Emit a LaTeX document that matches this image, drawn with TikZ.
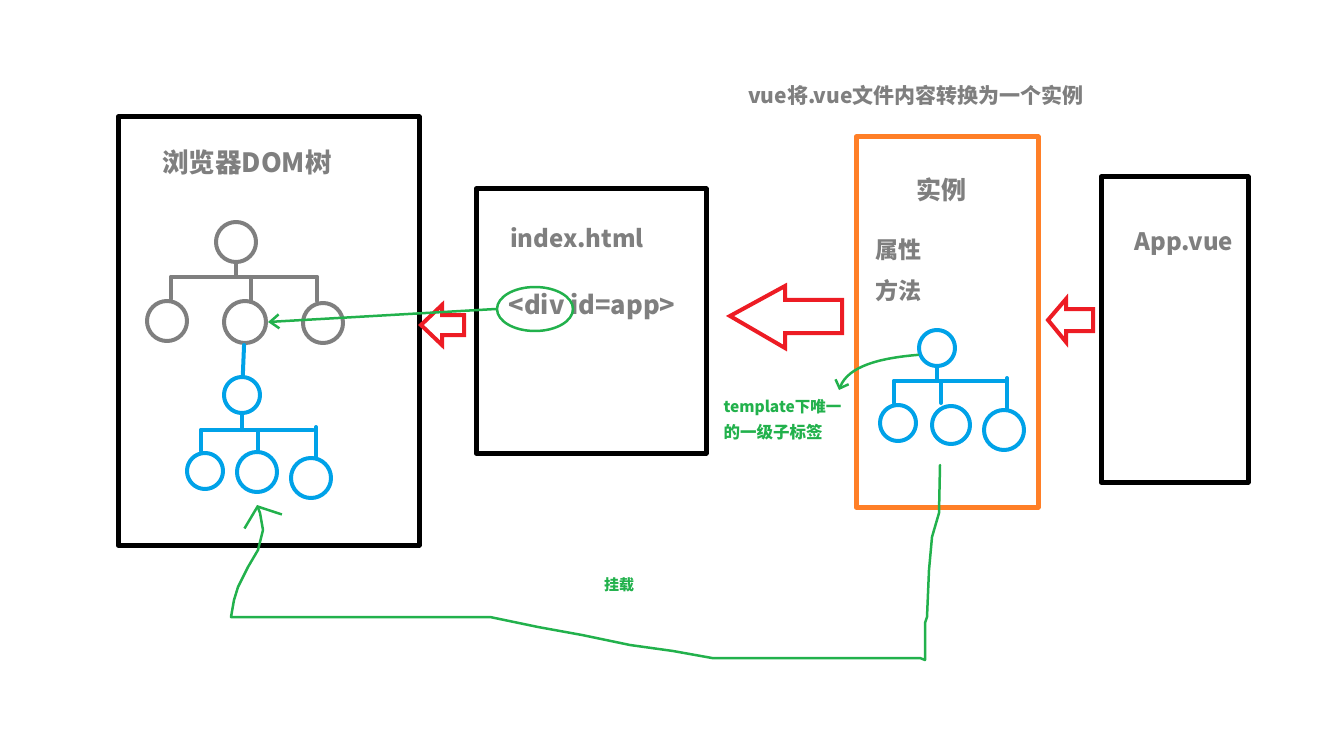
\documentclass[tikz,border=0pt]{standalone}
\usepackage{fontspec}
\usepackage{tikz}
\newfontfamily\cjk{Noto Sans CJK SC}
\usetikzlibrary{arrows.meta}
\usetikzlibrary{shapes.geometric}
\definecolor{txtgray}{RGB}{127,127,127}
\definecolor{pengreen}{RGB}{34,177,76}
\definecolor{penblue}{RGB}{0,162,232}
\definecolor{penred}{RGB}{237,28,36}
\definecolor{penorange}{RGB}{255,127,39}

\begin{document}
\begin{tikzpicture}[x=1pt,y=-1pt,line cap=round,line join=round,
  box/.style={draw,line width=5pt,inner sep=0pt},
  lbl/.style={text=txtgray,font=\cjk\bfseries\fontsize{24}{28}\selectfont},
  note/.style={text=pengreen,anchor=west,font=\cjk\bfseries\fontsize{16.5}{19}\selectfont},
  gnode/.style={circle,draw=txtgray,line width=4pt,inner sep=0pt},
  bnode/.style={circle,draw=penblue,line width=4pt,inner sep=0pt},
  gline/.style={draw=txtgray,line width=4pt},
  bline/.style={draw=penblue,line width=4pt},
  pen/.style={draw=pengreen,line width=2.5pt},
  hollow/.style={draw=penred,line width=4pt,line join=miter}]
\useasboundingbox (0,0) rectangle (1318,746);
%% boxes
\node[box,minimum width=301pt,minimum height=428pt] (dombox) at (268.5,331) {};
\node[box,minimum width=230pt,minimum height=264pt] (html) at (591,321) {};
\node[box,draw=penorange,minimum width=182pt,minimum height=370pt] (inst) at (947,322) {};
\node[box,minimum width=147pt,minimum height=305pt] (app) at (1174.5,329.5) {};
%% texts
\node[lbl,font=\cjk\bfseries\fontsize{26.5}{30}\selectfont] (domtitle) at (247,162) {浏览器DOM树};
\node[lbl] (htmltitle) at (577,238) {index.html};
\node[lbl,font=\cjk\bfseries\fontsize{25.5}{30}\selectfont] (divtag) at (592,307) {<div id=app>};
\node[lbl,font=\cjk\bfseries\fontsize{21}{25}\selectfont] (top) at (916,95) {vue将.vue文件内容转换为一个实例};
\node[lbl,font=\cjk\bfseries\fontsize{25}{28}\selectfont] (insttitle) at (941,190) {实例};
\node[lbl,font=\cjk\bfseries\fontsize{23}{28}\selectfont] (props) at (898,250) {属性};
\node[lbl,font=\cjk\bfseries\fontsize{23}{28}\selectfont] (meths) at (898,291) {方法};
\node[lbl] (apptitle) at (1184,244) {App.vue};
\node[note,font=\cjk\bfseries\fontsize{15.5}{19}\selectfont] (tpl1) at (720,407) {template下唯一};
\node[note] (tpl2) at (720,432) {的一级子标签};
\node[note,anchor=center,font=\cjk\bfseries\fontsize{15}{18}\selectfont] (mount) at (619,585) {挂载};
%% gray tree
\node[gnode,minimum size=40pt] (g0) at (236,242) {};
\node[gnode,minimum size=40pt] (g1) at (167,321) {};
\node[gnode,minimum size=42pt] (g2) at (245,322) {};
\node[gnode,minimum size=40pt] (g3) at (323,323) {};
\coordinate (gbl) at (171,277);
\coordinate (gbr) at (317,277);
\draw[gline] (gbl) -- (gbr);
\draw[gline] (g0) -- (g0 |- gbl);
\draw[gline] (gbl) -- (gbl |- g1.north);
\draw[gline] (251,277) -- (251,302);
\draw[gline] (gbr) -- (gbr |- g3.north);
%% blue tree in DOM
\node[bnode,minimum size=36pt] (b0) at (242,395) {};
\node[bnode,minimum size=36pt] (b1) at (205,471) {};
\node[bnode,minimum size=40pt] (b2) at (257,472) {};
\node[bnode,minimum size=40pt] (b3) at (311,478) {};
\draw[bline] (g2) -- (b0);
\coordinate (bbl) at (201,430);
\coordinate (bbr) at (313,430);
\draw[bline] (bbl) -- (bbr);
\draw[bline] (b0) -- (b0 |- bbl);
\draw[bline] (bbl) -- (bbl |- b1.north);
\draw[bline] (258,430) -- (258,452);
\draw[bline] (316,427) -- (316,458);
%% blue tree in instance
\node[bnode,minimum size=36pt] (c0) at (937,348) {};
\node[bnode,minimum size=36pt] (c1) at (898,423) {};
\node[bnode,minimum size=38pt] (c2) at (951,425) {};
\node[bnode,minimum size=40pt] (c3) at (1004,430) {};
\coordinate (cbl) at (894,381);
\coordinate (cbr) at (1005,381);
\draw[bline] (cbl) -- (cbr);
\draw[bline] (c0) -- (c0 |- cbl);
\draw[bline] (cbl) -- (cbl |- c1.north);
\draw[bline] (941,381) -- (941,403);
\draw[bline] (1007,378) -- (1007,410);
%% red hollow arrows
\draw[hollow] (421,325) -- (442,305) -- (442,315) -- (464,315) -- (464,335) -- (442,335) -- (442,345) -- cycle;
\draw[hollow] (730,316) -- (785,286) -- (785,300) -- (842,300) -- (842,333) -- (785,333) -- (785,348) -- cycle;
\draw[hollow] (1048,320) -- (1066,299) -- (1066,309) -- (1093,309) -- (1093,331) -- (1066,331) -- (1066,342) -- cycle;
%% green pen marks
\node[pen,draw,ellipse,minimum width=76pt,minimum height=44pt] (divring) at (535,309) {};
\draw[pen,-{Straight Barb[length=9pt,width=14pt]}] (divring.west) -- (g2.east);
\coordinate (tplend) at (839,390);
\draw[pen,-{Straight Barb[length=7pt,width=14pt]}] (c0.200) .. controls (880,358) and (848,366) .. (tplend);
\coordinate (mstart) at (940,465);
\coordinate (mend) at (257,505);
\draw[pen,-{Straight Barb[length=16pt,width=40pt]}] (mstart) -- (939,513) -- (932,537) -- (929,570) -- (927,617) -- (925,623) -- (925,660) -- (920,658) -- (712,658) -- (673,651) -- (630,645) -- (582,635) -- (538,627) -- (490,617) -- (231,617) -- (234,600) -- (238,587) -- (248,567) -- (258,550) -- (263,530) -- (260,513) -- (mend);
\end{tikzpicture}
\end{document}
